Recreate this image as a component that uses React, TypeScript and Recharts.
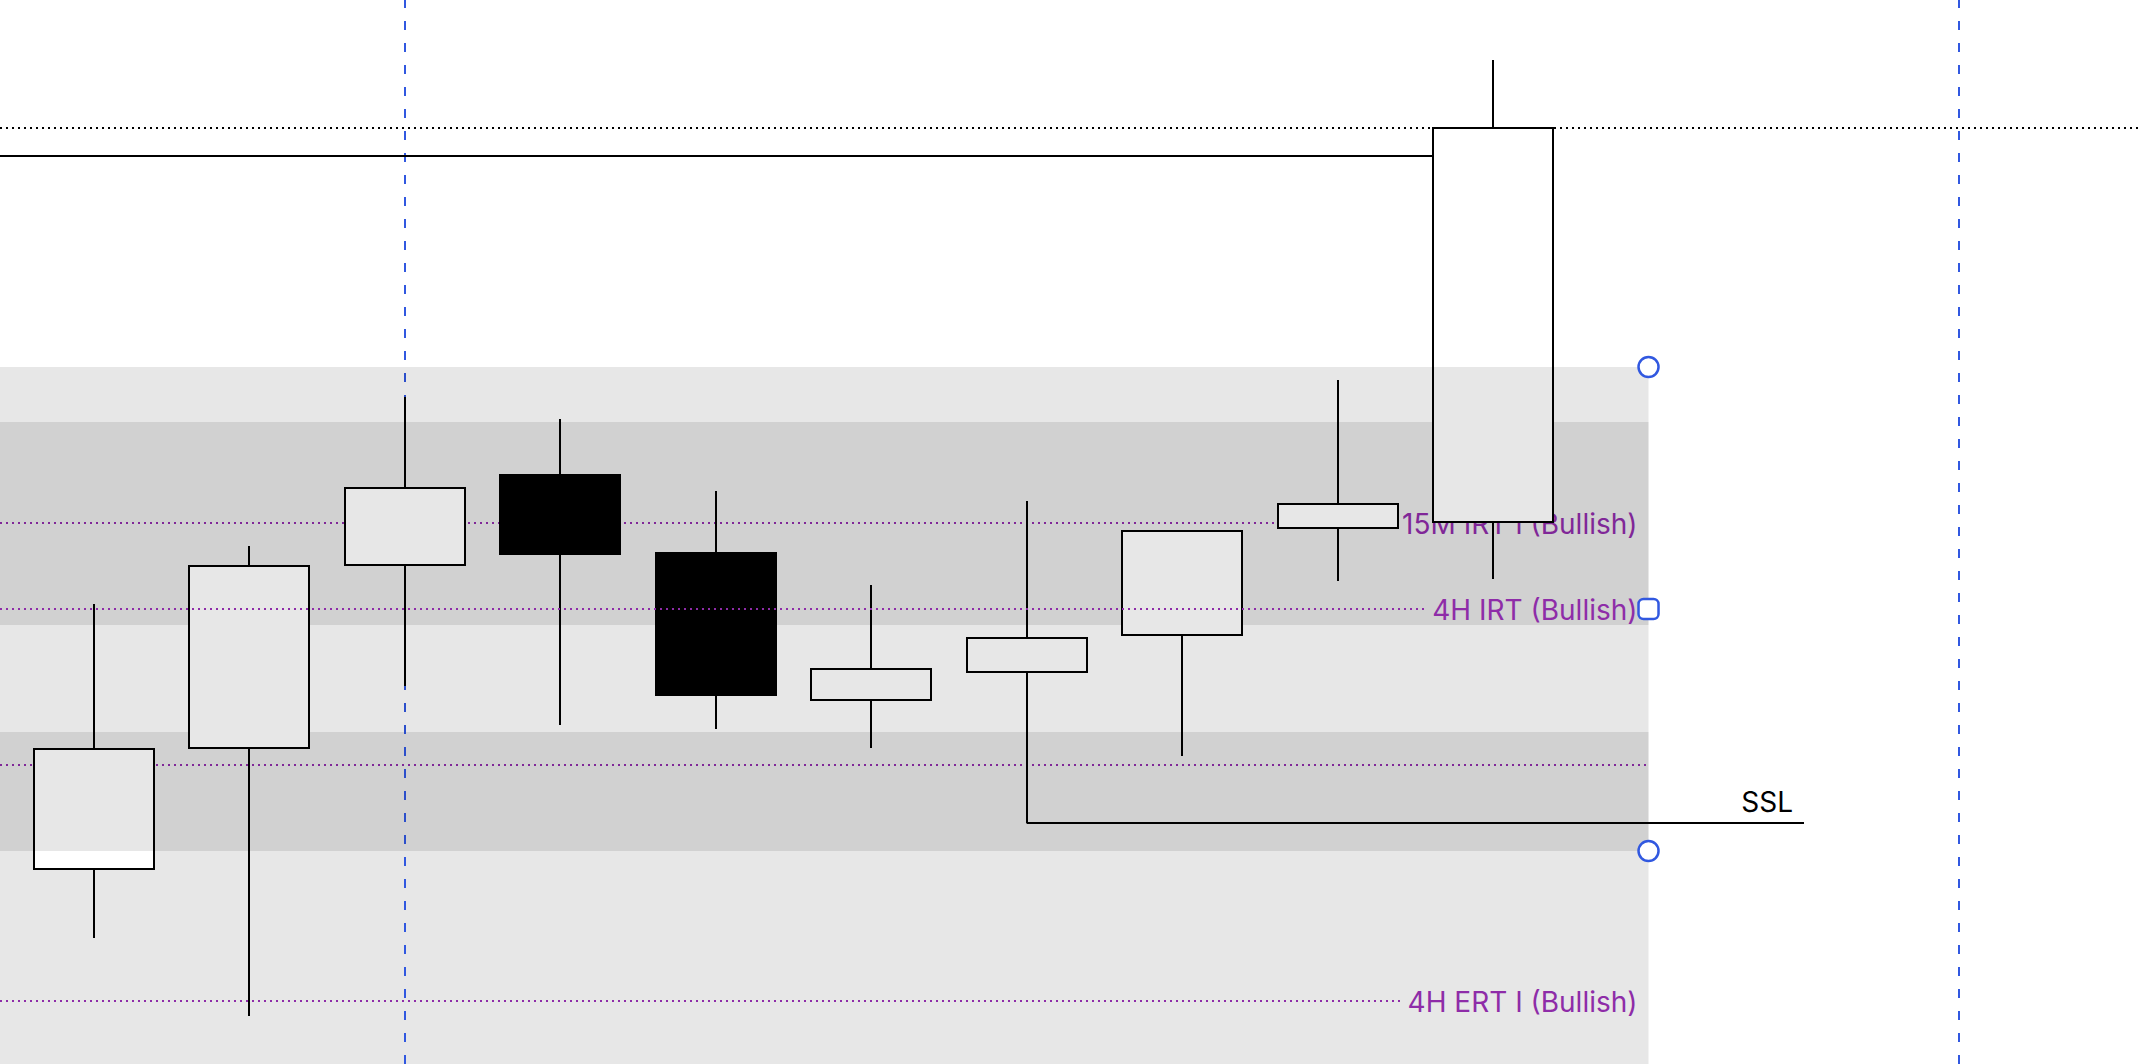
import React from 'react';
import {
  ComposedChart, Bar, XAxis, YAxis, ReferenceArea, ReferenceLine, ReferenceDot
} from 'recharts';

const W = 2140;
const H = 1064;

// visible window (candle index on x, price on y)
const X_MIN = -0.6027;
const X_MAX = 13.161;
const Y_MIN = 4000;
const Y_MAX = 4106.4;

// candles
const candleIdx = [-1, 0, 1, 2, 3, 4, 5, 6, 7, 8, 9];
const opens = [4013.9, 4019.5, 4031.6, 4049.9, 4058.9, 4051.1, 4036.4, 4039.2, 4042.9, 4053.6, 4054.2];
const highs = [4021.5, 4046.0, 4051.8, 4066.7, 4064.5, 4057.3, 4047.9, 4056.3, 4053.3, 4068.4, 4100.4];
const lows = [4010.2, 4012.6, 4004.8, 4037.8, 4033.9, 4033.5, 4031.6, 4024.1, 4030.8, 4048.3, 4048.5];
const closes = [4019.7, 4031.5, 4049.8, 4057.6, 4051.0, 4036.9, 4039.5, 4042.6, 4053.3, 4056.0, 4093.6];

// zones (shaded boxes) ending at candle 10
const zoneEnd = 10;
const bandTops = [4064.2, 4033.2];
const bandBottoms = [4043.9, 4000];
const boxTop = 4069.7;
const boxBottom = 4021.3;
const boxLabel = '4H IRT (Bullish)';
const boxLabelEnd = 8.58;

// purple levels
const levelPrices = [4054.1, 4029.9, 4006.3];
const levelLabels = ['15M IRT I (Bullish)', '', '4H ERT I (Bullish)'];
const levelEnds = [8.35, 10, 8.42];

// black levels
const closeLevel = 4093.6;
const priorHigh = 4090.8;
const priorHighEnd = 9;
const sslPrice = 4024.1;
const sslFrom = 6;
const sslTo = 11;

// vertical session markers
const sessionMarks = [2, 12];

const PURPLE = '#8e2ca8';
const BLUE = '#3158e0';
const FONT = 'Inter, "Noto Sans", sans-serif';
const SHADE = 0.095;

const data = candleIdx.map((idx, i) => ({
  idx,
  open: opens[i],
  high: highs[i],
  low: lows[i],
  close: closes[i],
  range: [lows[i], highs[i]],
}));

const Candle = (props: any) => {
  const { x, y, width, height, payload } = props;
  const top = Math.min(y, y + height);
  const h = Math.abs(height);
  const { open, close, high, low } = payload;
  const py = (v: number) => Math.round(top + ((high - v) / (high - low)) * h);
  const cx = Math.round(x + width / 2);
  const left = Math.round(x) + 1;
  const bodyTop = py(Math.max(open, close));
  const bodyBot = py(Math.min(open, close));
  return (
    <g>
      <line x1={cx} x2={cx} y1={py(high)} y2={py(low)} stroke="#000" strokeWidth={2} />
      <rect
        x={left}
        y={bodyTop}
        width={Math.round(width) - 2}
        height={Math.max(bodyBot - bodyTop, 1)}
        fill={close >= open ? '#fff' : '#000'}
        stroke="#000"
        strokeWidth={2}
      />
    </g>
  );
};

const vLine = (p: any) => {
  const x = Math.round(p.x1);
  return <line x1={x} x2={x} y1={p.y1} y2={p.y2} stroke={BLUE} strokeWidth={2} strokeDasharray="9 13" />;
};

const endLabel = (text: string, color: string, dy: number, baseline: string) => (p: any) => (
  <text
    x={p.cx - 11}
    y={p.cy + dy}
    textAnchor="end"
    dominantBaseline={baseline}
    fill={color}
    fontSize={28}
    fontFamily={FONT}
  >
    {text}
  </text>
);

const circleHandle = (p: any) => (
  <circle cx={p.cx} cy={p.cy} r={10} fill="#fff" stroke={BLUE} strokeWidth={2.5} />
);

const squareHandle = (p: any) => (
  <rect x={p.cx - 10} y={p.cy - 10} width={20} height={20} rx={5} fill="#fff" stroke={BLUE} strokeWidth={2.5} />
);

const App = () => {
  return (
    <div style={{ position: 'absolute', left: 0, top: 0, width: W, height: H, background: '#fff' }}>
      <ComposedChart width={W} height={H} data={data} margin={{ top: 0, right: 0, bottom: 0, left: 0 }}>
        <XAxis type="number" dataKey="idx" domain={[X_MIN, X_MAX]} allowDataOverflow hide />
        <YAxis type="number" domain={[Y_MIN, Y_MAX]} allowDataOverflow hide />

        {bandTops.map((t, i) => (
          <ReferenceArea key={'band' + i} x2={zoneEnd} y1={bandBottoms[i]} y2={t}
            fill="#000" fillOpacity={SHADE} stroke="none" zIndex={100 + i} />
        ))}

        {sessionMarks.map((m) => (
          <ReferenceLine key={'s' + m} x={m} stroke={BLUE} shape={vLine} zIndex={110} />
        ))}

        {levelPrices.map((v, i) => (
          <ReferenceLine key={'lv' + i} segment={[{ x: X_MIN, y: v }, { x: levelEnds[i], y: v }]}
            stroke={PURPLE} strokeWidth={2} strokeDasharray="2 4" zIndex={120} />
        ))}
        {levelLabels.map((t, i) => t ? (
          <ReferenceDot key={'ll' + i} x={zoneEnd} y={levelPrices[i]} r={0}
            shape={endLabel(t, PURPLE, 1, 'central')} zIndex={130} />
        ) : null)}

        <ReferenceLine segment={[{ x: X_MIN, y: priorHigh }, { x: priorHighEnd, y: priorHigh }]}
          stroke="#000" strokeWidth={2} zIndex={140} />
        <ReferenceLine segment={[{ x: sslFrom, y: sslPrice }, { x: sslTo, y: sslPrice }]}
          stroke="#000" strokeWidth={2} zIndex={140} />
        <ReferenceDot x={sslTo} y={sslPrice} r={0} shape={endLabel('SSL', '#000', -11, 'auto')} zIndex={140} />

        <Bar dataKey="range" barSize={122} shape={Candle} isAnimationActive={false} zIndex={300} />

        <ReferenceArea x2={zoneEnd} y1={boxBottom} y2={boxTop}
          fill="#000" fillOpacity={SHADE} stroke="none" zIndex={400} />
        <ReferenceLine segment={[{ x: X_MIN, y: (boxTop + boxBottom) / 2 }, { x: boxLabelEnd, y: (boxTop + boxBottom) / 2 }]}
          stroke={PURPLE} strokeWidth={2} strokeDasharray="2 4" zIndex={410} />
        <ReferenceDot x={zoneEnd} y={(boxTop + boxBottom) / 2} r={0}
          shape={endLabel(boxLabel, PURPLE, 1, 'central')} zIndex={420} />

        <ReferenceLine y={closeLevel} stroke="#000" strokeWidth={2} strokeDasharray="2 4" zIndex={430} />

        <ReferenceDot x={zoneEnd} y={boxTop} r={10} shape={circleHandle} zIndex={500} />
        <ReferenceDot x={zoneEnd} y={boxBottom} r={10} shape={circleHandle} zIndex={500} />
        <ReferenceDot x={zoneEnd} y={(boxTop + boxBottom) / 2} r={10} shape={squareHandle} zIndex={500} />
      </ComposedChart>
    </div>
  );
};

export default App;
